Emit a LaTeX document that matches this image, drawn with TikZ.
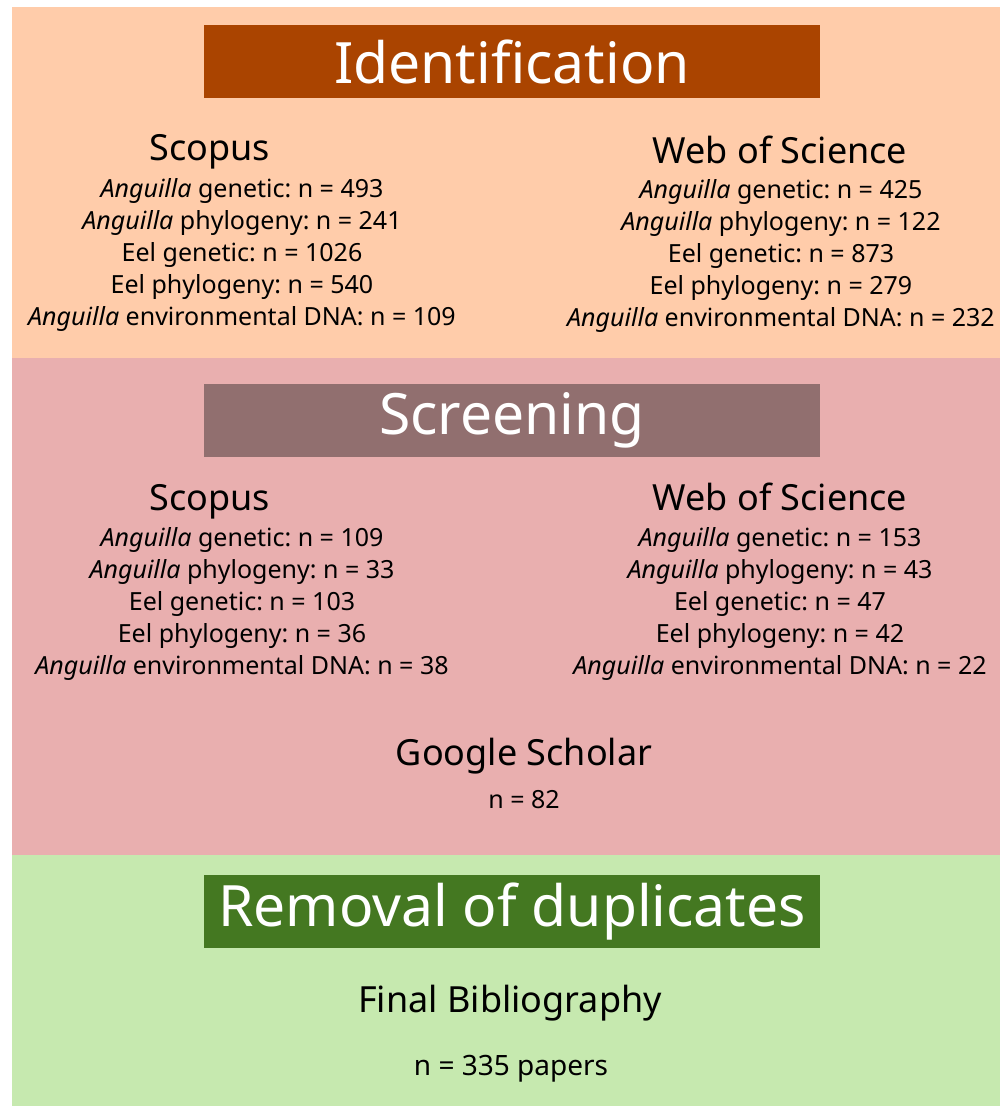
\documentclass[tikz,border=0pt]{standalone}
\usepackage{fontspec}
\setmainfont{Noto Sans}
\frenchspacing

\definecolor{idback}{HTML}{FFCCAA}
\definecolor{idbox}{HTML}{AA4400}
\definecolor{scrback}{HTML}{E9AFAF}
\definecolor{scrbox}{HTML}{916F6F}
\definecolor{remback}{HTML}{C6E9AF}
\definecolor{rembox}{HTML}{447821}

\newcommand{\ang}{\textit{Anguilla}}

\tikzset{
  stagebox/.style={minimum width=616pt, minimum height=73pt, inner sep=0pt,
    text=white, font=\fontsize{57}{60}\selectfont},
  dbname/.style={inner sep=0pt, font=\fontsize{36}{40}\selectfont},
  counts/.style={inner sep=0pt, align=center, font=\fontsize{25}{32}\selectfont},
}

\begin{document}
\begin{tikzpicture}[x=1pt, y=-1pt]
  \useasboundingbox (0,0) rectangle (1000,1106);
  % background bands
  \fill[idback] (12,7) rectangle (1000,358);
  \fill[scrback] (12,358) rectangle (1000,855);
  \fill[remback] (12,855) rectangle (1000,1106);

  % identification
  \node[stagebox, fill=idbox] (idhead) at (512,61.5) {Identification};
  \node[dbname] (idscopus) at (210,152) {Scopus};
  \node[dbname] (idwos) at (780,150) {Web of Science};
  \node[counts] (idscopusn) at (242,255) {%
    \ang{} genetic: n = 493\\
    \ang{} phylogeny: n = 241\\
    Eel genetic: n = 1026\\
    Eel phylogeny: n = 540\\
    \ang{} environmental DNA: n = 109};
  \node[counts] (idwosn) at (781,256) {%
    \ang{} genetic: n = 425\\
    \ang{} phylogeny: n = 122\\
    Eel genetic: n = 873\\
    Eel phylogeny: n = 279\\
    \ang{} environmental DNA: n = 232};

  % screening
  \node[stagebox, fill=scrbox] (scrhead) at (512,420.5) {Screening};
  \node[dbname] (scrscopus) at (210,502) {Scopus};
  \node[dbname] (scrwos) at (780,497) {Web of Science};
  \node[counts] (scrscopusn) at (242,604) {%
    \ang{} genetic: n = 109\\
    \ang{} phylogeny: n = 33\\
    Eel genetic: n = 103\\
    Eel phylogeny: n = 36\\
    \ang{} environmental DNA: n = 38};
  \node[counts] (scrwosn) at (780,604) {%
    \ang{} genetic: n = 153\\
    \ang{} phylogeny: n = 43\\
    Eel genetic: n = 47\\
    Eel phylogeny: n = 42\\
    \ang{} environmental DNA: n = 22};
  \node[dbname] (scholar) at (524,756) {Google Scholar};
  \node[counts] (scholarn) at (524,800) {n = 82};

  % duplicates
  \node[stagebox, fill=rembox] (remhead) at (512,911.5) {Removal of duplicates};
  \node[dbname] (finalbib) at (510,1003) {Final Bibliography};
  \node[counts, font=\fontsize{28}{32}\selectfont] (finaln) at (511,1069) {n = 335 papers};
\end{tikzpicture}
\end{document}
